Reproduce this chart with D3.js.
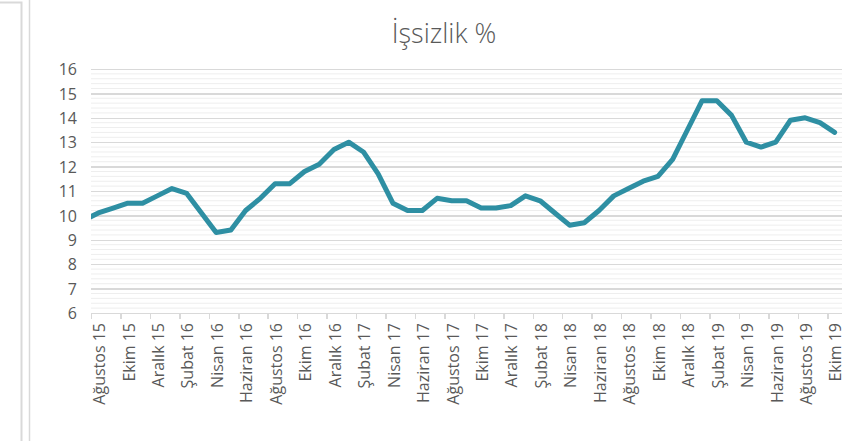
<!DOCTYPE html>
<html lang="tr">
    <head>
        <meta charset="utf-8">
        <title>İşsizlik %</title>
        <script type="text/javascript" src="https://d3js.org/d3.v7.min.js"></script>
        <style type="text/css">
            body {
                margin: 0;
                background: #fff;
            }

            .axis path,
            .axis line {
                fill: none;
                stroke: #d9d9d9;
                stroke-width: 1.5px;
                shape-rendering: crispEdges;
            }

            .axis text {
                font-family: "Open Sans", sans-serif;
                font-size: 16px;
                fill: #595959;
            }
        </style>
    </head>
    <body>
        <script type="text/javascript">
            // aylık işsizlik oranı, Ağustos 15 - Ekim 19
            const months = [
                "Ağustos 15", "Eylül 15", "Ekim 15", "Kasım 15", "Aralık 15",
                "Ocak 16", "Şubat 16", "Mart 16", "Nisan 16", "Mayıs 16", "Haziran 16",
                "Temmuz 16", "Ağustos 16", "Eylül 16", "Ekim 16", "Kasım 16", "Aralık 16",
                "Ocak 17", "Şubat 17", "Mart 17", "Nisan 17", "Mayıs 17", "Haziran 17",
                "Temmuz 17", "Ağustos 17", "Eylül 17", "Ekim 17", "Kasım 17", "Aralık 17",
                "Ocak 18", "Şubat 18", "Mart 18", "Nisan 18", "Mayıs 18", "Haziran 18",
                "Temmuz 18", "Ağustos 18", "Eylül 18", "Ekim 18", "Kasım 18", "Aralık 18",
                "Ocak 19", "Şubat 19", "Mart 19", "Nisan 19", "Mayıs 19", "Haziran 19",
                "Temmuz 19", "Ağustos 19", "Eylül 19", "Ekim 19"
            ]
            const rates = [
                10.1, 10.3, 10.5, 10.5, 10.8,
                11.1, 10.9, 10.1, 9.3, 9.4, 10.2,
                10.7, 11.3, 11.3, 11.8, 12.1, 12.7,
                13.0, 12.6, 11.7, 10.5, 10.2, 10.2,
                10.7, 10.6, 10.6, 10.3, 10.3, 10.4,
                10.8, 10.6, 10.1, 9.6, 9.7, 10.2,
                10.8, 11.1, 11.4, 11.6, 12.3, 13.5,
                14.7, 14.7, 14.1, 13.0, 12.8, 13.0,
                13.9, 14.0, 13.8, 13.4
            ]
            // Temmuz 15: only the start of the line shows, cut at the plot edge
            const prevRate = 9.8
            const yTicks = [6, 7, 8, 9, 10, 11, 12, 13, 14, 15, 16]

            const w = 851
            const h = 441
            const plotLeft = 91
            const plotRight = 842
            const plotTop = 69
            const plotBottom = 313

            const svg = d3.select("body")
                            .append("svg")
                            .attr("width", w)
                            .attr("height", h)

            // frame lines on the left
            svg.append("path")
                .attr("d", `M0,2.5H21.5V${h}`)
                .attr("fill", "none")
                .attr("stroke", "#d9d9d9")
                .attr("stroke-width", 2)
            svg.append("line")
                .attr("x1", 29.5).attr("x2", 29.5)
                .attr("y1", 0).attr("y2", h)
                .attr("stroke", "#d9d9d9")
                .attr("stroke-width", 1.5)

            svg.append("text")
                .text("İşsizlik %")
                .attr("x", 444)
                .attr("y", 43)
                .attr("text-anchor", "middle")
                .attr("font-family", "'Open Sans', sans-serif")
                .attr("font-weight", 300)
                .attr("font-size", "27px")
                .attr("fill", "#595959")

            const xScale = d3.scaleLinear()
                            .domain([-0.5, months.length - 0.5])
                            .range([plotLeft, plotRight])

            const yScale = d3.scaleLinear()
                            .domain([6, 16])
                            .range([plotBottom, plotTop])

            // minor gridlines every 0.2
            const minor = d3.range(30, 81).map(d => d / 5).filter(d => d % 1 !== 0)
            svg.append("g")
                .selectAll("line")
                .data(minor)
                .enter()
                .append("line")
                .attr("x1", plotLeft).attr("x2", plotRight)
                .attr("y1", d => yScale(d)).attr("y2", d => yScale(d))
                .attr("stroke", "#eeeeee")
                .attr("stroke-width", 1)

            const yAxis = d3.axisLeft()
                            .scale(yScale)
                            .tickValues(yTicks)
                            .tickSize(-(plotRight - plotLeft))
                            .tickPadding(14)

            svg.append("g")
                .attr("class", "axis")
                .attr("transform", `translate(${plotLeft}, 0)`)
                .call(yAxis)
                .call(g => g.select(".domain").remove())
                .call(g => g.selectAll("text").attr("dy", "0.36em"))

            // tick marks between every second month
            const xAxis = d3.axisBottom()
                            .scale(xScale)
                            .tickValues(d3.range(-0.5, months.length - 1, 2))
                            .tickSize(6)
                            .tickFormat("")

            svg.append("g")
                .attr("class", "axis")
                .attr("transform", `translate(0, ${plotBottom})`)
                .call(xAxis)
                .call(g => g.select(".domain").attr("d", `M${plotLeft},0.5H${plotRight}`))

            const labelIdx = d3.range(0, months.length, 2)
            svg.append("g")
                .attr("class", "axis")
                .selectAll("text")
                .data(labelIdx)
                .enter()
                .append("text")
                .text(i => months[i])
                .attr("text-anchor", "end")
                .attr("dy", "0.36em")
                .attr("transform", i => `translate(${xScale(i) + 1}, 323) rotate(-90)`)

            svg.append("clipPath")
                .attr("id", "plot")
                .append("rect")
                .attr("x", plotLeft)
                .attr("y", 0)
                .attr("width", plotRight - plotLeft)
                .attr("height", h)

            const points = [[-1, prevRate]].concat(rates.map((d, i) => [i, d]))
            const line = d3.line()
                            .x(d => xScale(d[0]))
                            .y(d => yScale(d[1]))

            svg.append("path")
                .datum(points)
                .attr("d", line)
                .attr("clip-path", "url(#plot)")
                .attr("fill", "none")
                .attr("stroke", "#2e8fa3")
                .attr("stroke-width", 5)
                .attr("stroke-linejoin", "round")
                .attr("stroke-linecap", "round")
        </script>
    </body>
</html>
